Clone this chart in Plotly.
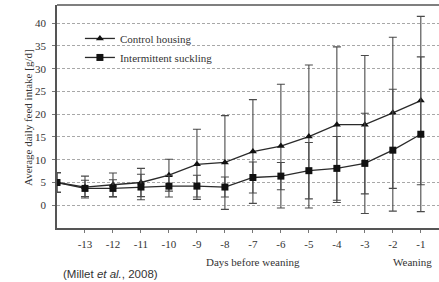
import plotly.graph_objects as go

days = [-14, -13, -12, -11, -10, -9, -8, -7, -6, -5, -4, -3, -2, -1]
control = [5.0, 4.0, 4.5, 5.0, 6.6, 9.0, 9.4, 11.8, 13.0, 15.1, 17.7, 17.7, 20.3, 23.0]
control_err = [2.2, 2.4, 2.6, 3.1, 3.5, 7.7, 10.3, 11.4, 13.6, 15.7, 17.1, 15.2, 16.6, 18.5]
intermittent = [5.0, 3.7, 3.7, 4.0, 4.2, 4.2, 4.0, 6.1, 6.4, 7.6, 8.1, 9.2, 12.1, 15.6]
intermittent_err = [2.1, 1.8, 1.9, 2.8, 2.4, 2.4, 2.2, 3.4, 3.0, 6.2, 7.0, 11.0, 13.4, 17.0]
xtick_vals = [-13, -12, -11, -10, -9, -8, -7, -6, -5, -4, -3, -2, -1]
ytick_vals = [0, 5, 10, 15, 20, 25, 30, 35, 40]

serif = "Liberation Serif, Times New Roman, serif"
ink = "#2a2a2a"
errc = "#4a4a4a"

fig = go.Figure()
fig.add_trace(go.Scatter(
    x=days, y=control, mode="lines+markers", name="Control housing",
    line=dict(color=ink, width=1.3),
    marker=dict(symbol="triangle-up", size=7, color="#111"),
    error_y=dict(type="data", array=control_err, visible=True,
                 color=errc, thickness=1.1, width=4),
))
fig.add_trace(go.Scatter(
    x=days, y=intermittent, mode="lines+markers", name="Intermittent suckling",
    line=dict(color=ink, width=1.3),
    marker=dict(symbol="square", size=7, color="#111"),
    error_y=dict(type="data", array=intermittent_err, visible=True,
                 color=errc, thickness=1.1, width=4),
))

PW = 439 - 57
PH = 228 - 5

fig.update_layout(
    width=439, height=282,
    margin=dict(l=57, r=0, t=5, b=54),
    paper_bgcolor="white", plot_bgcolor="white",
    font=dict(family=serif, size=10.5, color="#333"),
    showlegend=True,
    legend=dict(x=0.06, y=0.915, xanchor="left", yanchor="top",
                bgcolor="rgba(255,255,255,0)", font=dict(family=serif, size=11, color="#333"),
                tracegroupgap=0, itemwidth=30),
    xaxis=dict(range=[-14, -0.35], tickmode="array", tickvals=xtick_vals,
               ticktext=[str(v) for v in xtick_vals],
               showgrid=False, zeroline=False, showline=True, linecolor="#555", linewidth=1.5,
               ticks="outside", ticklen=3, tickcolor="#777", ticklabelstandoff=2,
               tickfont=dict(size=11)),
    yaxis=dict(range=[-5, 44], tickmode="array", tickvals=ytick_vals,
               showgrid=True, gridcolor="#a8a8a8", griddash="3px,2px", gridwidth=1,
               zeroline=False, showline=True, linecolor="#555", linewidth=1.5,
               ticks="outside", ticklen=3, tickcolor="#777", ticklabelstandoff=4,
               tickfont=dict(size=11)),
    shapes=[dict(type="line", xref="paper", yref="paper", x0=0, x1=1, y0=1, y1=1,
                 line=dict(color="#555", width=1.5))],
    annotations=[
        dict(text="Average daily feed intake [g/d]", xref="paper", yref="paper",
             x=(28 - 57) / PW, y=(228 - 118) / PH, textangle=-90, showarrow=False,
             xanchor="center", yanchor="middle",
             font=dict(family=serif, size=11, color="#333")),
        dict(text="Days before weaning", xref="paper", yref="paper",
             x=(253 - 57) / PW, y=-(262 - 228) / PH, showarrow=False,
             xanchor="center", yanchor="middle",
             font=dict(family=serif, size=11, color="#333")),
        dict(text="Weaning", xref="paper", yref="paper",
             x=(412 - 57) / PW, y=-(262 - 228) / PH, showarrow=False,
             xanchor="center", yanchor="middle",
             font=dict(family=serif, size=11, color="#333")),
        dict(text="(Millet <i>et al.</i>, 2008)", xref="paper", yref="paper",
             x=(110 - 57) / PW, y=-(274 - 228) / PH, showarrow=False,
             xanchor="center", yanchor="middle",
             font=dict(family="Liberation Sans, Arial, sans-serif", size=11.5, color="#333")),
    ],
)

fig.write_html("out.html", config={"displayModeBar": False},
               post_script="document.body.style.margin='0';")
